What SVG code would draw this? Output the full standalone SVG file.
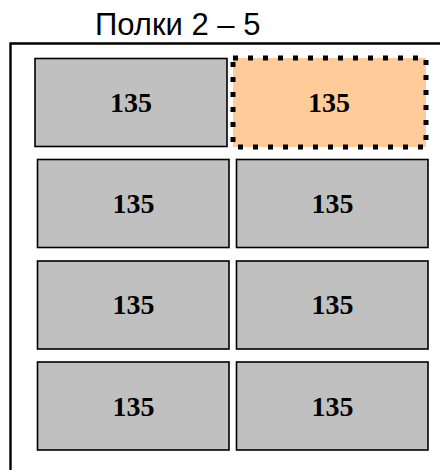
<svg xmlns="http://www.w3.org/2000/svg" width="440" height="470" viewBox="0 0 440 470">
<style>
.box{fill:#C0C0C0;stroke:#000;stroke-width:1.6}
.sel{fill:#FFCC99;stroke:#000;stroke-width:5;stroke-dasharray:5 10}
.num{font-family:"Liberation Serif","Times New Roman",serif;font-weight:bold;font-size:28px;text-anchor:middle;fill:#000}
.title{font-family:"Liberation Sans",Arial,sans-serif;font-size:31px;fill:#000}
</style>
<rect width="440" height="470" fill="#fff"/>
<g id="frame">
<path d="M10.5 470 V43.5 H440" fill="none" stroke="#000" stroke-width="2.4"/>
</g>
<g id="title"><text class="title" x="95" y="35">Полки 2 – 5</text></g>
<g id="connectors"></g>
<g id="r1c1"><rect class="box" x="35" y="58.5" width="192" height="88"/><text class="num" x="131" y="112">135</text></g>
<g id="r1c2"><rect class="sel" x="233" y="58" width="193" height="89"/><text class="num" x="329" y="112">135</text></g>
<g id="r2c1"><rect class="box" x="37.5" y="159.5" width="191.5" height="88"/><text class="num" x="133.5" y="212.5">135</text></g>
<g id="r2c2"><rect class="box" x="236.5" y="159.5" width="191.5" height="88"/><text class="num" x="332.5" y="212.5">135</text></g>
<g id="r3c1"><rect class="box" x="37.5" y="261" width="191.5" height="88"/><text class="num" x="133.5" y="314">135</text></g>
<g id="r3c2"><rect class="box" x="236.5" y="261" width="191.5" height="88"/><text class="num" x="332.5" y="314">135</text></g>
<g id="r4c1"><rect class="box" x="37.5" y="362" width="191.5" height="88"/><text class="num" x="133.5" y="415.5">135</text></g>
<g id="r4c2"><rect class="box" x="236.5" y="362" width="191.5" height="88"/><text class="num" x="332.5" y="415.5">135</text></g>
</svg>
